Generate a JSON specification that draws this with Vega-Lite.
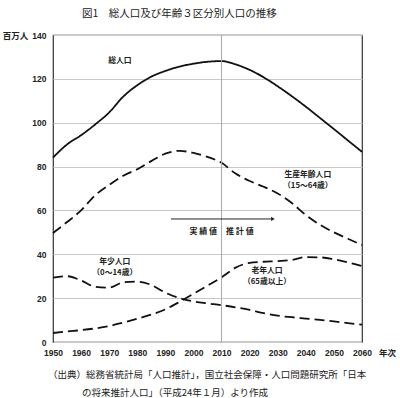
{
  "$schema": "https://vega.github.io/schema/vega-lite/v6.json",
  "width": 309,
  "height": 307,
  "autosize": "none",
  "padding": {"left": 53, "top": 35, "right": 38, "bottom": 56},
  "background": "white",
  "title": {"text": "図1　総人口及び年齢３区分別人口の推移", "anchor": "start", "frame": "group", "dx": 29, "offset": 12, "fontSize": 10.5, "font": "Noto Sans CJK JP", "fontWeight": "normal", "color": "#222"},
  "config": {"view": {"stroke": "#333", "strokeWidth": 1.2}, "font": "Noto Sans CJK JP", "axis": {"labelOverlap": false, "labelFlush": false}},
  "datasets": {
    "pop": [
      {"year": 1950, "series": "総人口", "value": 84.1}, {"year": 1955, "series": "総人口", "value": 90.1}, {"year": 1960, "series": "総人口", "value": 94.3}, {"year": 1965, "series": "総人口", "value": 99.2}, {"year": 1970, "series": "総人口", "value": 104.7}, {"year": 1975, "series": "総人口", "value": 111.9}, {"year": 1980, "series": "総人口", "value": 117.1}, {"year": 1985, "series": "総人口", "value": 121.0}, {"year": 1990, "series": "総人口", "value": 123.6}, {"year": 1995, "series": "総人口", "value": 125.6}, {"year": 2000, "series": "総人口", "value": 126.9}, {"year": 2005, "series": "総人口", "value": 127.8}, {"year": 2010, "series": "総人口", "value": 128.1}, {"year": 2015, "series": "総人口", "value": 126.6}, {"year": 2020, "series": "総人口", "value": 124.1}, {"year": 2025, "series": "総人口", "value": 120.7}, {"year": 2030, "series": "総人口", "value": 116.6}, {"year": 2035, "series": "総人口", "value": 112.1}, {"year": 2040, "series": "総人口", "value": 107.3}, {"year": 2045, "series": "総人口", "value": 102.2}, {"year": 2050, "series": "総人口", "value": 97.1}, {"year": 2055, "series": "総人口", "value": 91.9}, {"year": 2060, "series": "総人口", "value": 86.7},
      {"year": 1950, "series": "生産年齢人口", "value": 49.7}, {"year": 1955, "series": "生産年齢人口", "value": 54.7}, {"year": 1960, "series": "生産年齢人口", "value": 60.0}, {"year": 1965, "series": "生産年齢人口", "value": 66.9}, {"year": 1970, "series": "生産年齢人口", "value": 71.6}, {"year": 1975, "series": "生産年齢人口", "value": 75.8}, {"year": 1980, "series": "生産年齢人口", "value": 78.8}, {"year": 1985, "series": "生産年齢人口", "value": 82.5}, {"year": 1990, "series": "生産年齢人口", "value": 85.9}, {"year": 1995, "series": "生産年齢人口", "value": 87.2}, {"year": 2000, "series": "生産年齢人口", "value": 86.2}, {"year": 2005, "series": "生産年齢人口", "value": 84.4}, {"year": 2010, "series": "生産年齢人口", "value": 81.7}, {"year": 2015, "series": "生産年齢人口", "value": 76.8}, {"year": 2020, "series": "生産年齢人口", "value": 73.4}, {"year": 2025, "series": "生産年齢人口", "value": 70.8}, {"year": 2030, "series": "生産年齢人口", "value": 67.7}, {"year": 2035, "series": "生産年齢人口", "value": 63.4}, {"year": 2040, "series": "生産年齢人口", "value": 57.9}, {"year": 2045, "series": "生産年齢人口", "value": 53.5}, {"year": 2050, "series": "生産年齢人口", "value": 50.0}, {"year": 2055, "series": "生産年齢人口", "value": 47.1}, {"year": 2060, "series": "生産年齢人口", "value": 44.2},
      {"year": 1950, "series": "年少人口", "value": 29.4}, {"year": 1955, "series": "年少人口", "value": 30.0}, {"year": 1960, "series": "年少人口", "value": 28.1}, {"year": 1965, "series": "年少人口", "value": 25.2}, {"year": 1970, "series": "年少人口", "value": 24.8}, {"year": 1975, "series": "年少人口", "value": 27.2}, {"year": 1980, "series": "年少人口", "value": 27.5}, {"year": 1985, "series": "年少人口", "value": 26.0}, {"year": 1990, "series": "年少人口", "value": 22.5}, {"year": 1995, "series": "年少人口", "value": 20.0}, {"year": 2000, "series": "年少人口", "value": 18.5}, {"year": 2005, "series": "年少人口", "value": 17.6}, {"year": 2010, "series": "年少人口", "value": 16.8}, {"year": 2015, "series": "年少人口", "value": 15.8}, {"year": 2020, "series": "年少人口", "value": 14.6}, {"year": 2025, "series": "年少人口", "value": 13.2}, {"year": 2030, "series": "年少人口", "value": 12.0}, {"year": 2035, "series": "年少人口", "value": 11.3}, {"year": 2040, "series": "年少人口", "value": 10.7}, {"year": 2045, "series": "年少人口", "value": 10.1}, {"year": 2050, "series": "年少人口", "value": 9.4}, {"year": 2055, "series": "年少人口", "value": 8.6}, {"year": 2060, "series": "年少人口", "value": 7.9},
      {"year": 1950, "series": "老年人口", "value": 4.1}, {"year": 1955, "series": "老年人口", "value": 4.8}, {"year": 1960, "series": "老年人口", "value": 5.4}, {"year": 1965, "series": "老年人口", "value": 6.2}, {"year": 1970, "series": "老年人口", "value": 7.3}, {"year": 1975, "series": "老年人口", "value": 8.9}, {"year": 1980, "series": "老年人口", "value": 10.6}, {"year": 1985, "series": "老年人口", "value": 12.5}, {"year": 1990, "series": "老年人口", "value": 14.9}, {"year": 1995, "series": "老年人口", "value": 18.3}, {"year": 2000, "series": "老年人口", "value": 22.0}, {"year": 2005, "series": "老年人口", "value": 25.7}, {"year": 2010, "series": "老年人口", "value": 29.5}, {"year": 2015, "series": "老年人口", "value": 33.9}, {"year": 2020, "series": "老年人口", "value": 36.1}, {"year": 2025, "series": "老年人口", "value": 36.6}, {"year": 2030, "series": "老年人口", "value": 36.9}, {"year": 2035, "series": "老年人口", "value": 37.4}, {"year": 2040, "series": "老年人口", "value": 38.7}, {"year": 2045, "series": "老年人口", "value": 38.6}, {"year": 2050, "series": "老年人口", "value": 37.7}, {"year": 2055, "series": "老年人口", "value": 36.3}, {"year": 2060, "series": "老年人口", "value": 34.6}
    ],
    "labels": [
      {"year": 1973.8, "value": 128.3, "text": "総人口"},
      {"year": 2040.7, "value": 76.2, "text": "生産年齢人口"},
      {"year": 2040.7, "value": 71.3, "text": "（15～64歳）"},
      {"year": 1972, "value": 36.5, "text": "年少人口"},
      {"year": 1972, "value": 31.6, "text": "（0～14歳）"},
      {"year": 2026.2, "value": 32.4, "text": "老年人口"},
      {"year": 2026.2, "value": 27.3, "text": "（65歳以上）"}
    ],
    "phase": [
      {"year": 2008.4, "value": 50.2, "text": "実  績  値", "side": "left"},
      {"year": 2011.6, "value": 50.2, "text": "推  計  値", "side": "right"}
    ],
    "notes": [
      {"year": 1948.2, "value": -15.1, "text": "（出典）総務省統計局「人口推計」，国立社会保障・人口問題研究所「日本"},
      {"year": 1960.3, "value": -23.3, "text": "の将来推計人口」（平成24年１月）より作成"}
    ],
    "arrow": [{"year": 1992, "year2": 2028.3, "value": 56.1}],
    "divider": [{"year": 2010}]
  },
  "layer": [
    {
      "data": {"name": "pop"},
      "mark": {"type": "line", "color": "#111", "strokeWidth": 1.8, "interpolate": "monotone"},
      "encoding": {
        "x": {"field": "year", "type": "quantitative", "scale": {"domain": [1950, 2060], "nice": false, "zero": false},
          "axis": {"values": [1950, 1960, 1970, 1980, 1990, 2000, 2010, 2020, 2030, 2040, 2050, 2060], "tickCount": 12, "format": "d", "grid": false, "ticks": false, "domain": false, "labelOverlap": false, "labelFont": "Liberation Sans", "labelFontWeight": "bold", "labelFontSize": 8.5, "labelPadding": 6, "labelColor": "#222",
            "title": "年次", "titleX": 334, "titleY": 10, "titleAlign": "center", "titleBaseline": "middle", "titleFontSize": 8.5, "titleFontWeight": "bold", "titleColor": "#222"}},
        "y": {"field": "value", "type": "quantitative", "scale": {"domain": [0, 140], "nice": false},
          "axis": {"values": [0, 20, 40, 60, 80, 100, 120, 140], "tickCount": 8, "grid": true, "gridColor": "#c8c8c8", "gridWidth": 1, "ticks": false, "domain": false, "labelOverlap": false, "labelFont": "Liberation Sans", "labelFontWeight": "bold", "labelFontSize": 8.5, "labelPadding": 7, "labelColor": "#222",
            "title": "百万人", "titleAngle": 0, "titleX": -38, "titleY": 0, "titleAlign": "center", "titleBaseline": "middle", "titleFontSize": 8.5, "titleFontWeight": "bold", "titleColor": "#222"}},
        "detail": {"field": "series"},
        "strokeDash": {"field": "series", "type": "nominal", "scale": {"domain": ["総人口", "生産年齢人口", "年少人口", "老年人口"], "range": [[1, 0], [10, 5], [10, 5], [10, 5]]}, "legend": null}
      }
    },
    {
      "data": {"name": "divider"},
      "mark": {"type": "rule", "color": "#aaa", "strokeWidth": 1},
      "encoding": {"x": {"field": "year", "type": "quantitative"}}
    },
    {
      "data": {"name": "arrow"},
      "mark": {"type": "rule", "color": "#222", "strokeWidth": 1},
      "encoding": {"x": {"field": "year", "type": "quantitative"}, "x2": {"field": "year2"}, "y": {"field": "value", "type": "quantitative"}}
    },
    {
      "data": {"name": "arrow"},
      "mark": {"type": "point", "shape": "triangle-right", "filled": true, "color": "#222", "size": 18, "opacity": 1},
      "encoding": {"x": {"field": "year2", "type": "quantitative"}, "y": {"field": "value", "type": "quantitative"}}
    },
    {
      "data": {"name": "labels"},
      "mark": {"type": "text", "fontSize": 7.8, "fontWeight": "bold", "color": "#222", "align": "center", "baseline": "middle"},
      "encoding": {"x": {"field": "year", "type": "quantitative"}, "y": {"field": "value", "type": "quantitative"}, "text": {"field": "text"}}
    },
    {
      "data": {"name": "phase"},
      "transform": [{"filter": "datum.side === 'left'"}],
      "mark": {"type": "text", "fontSize": 8, "fontWeight": "bold", "color": "#222", "align": "right", "baseline": "middle"},
      "encoding": {"x": {"field": "year", "type": "quantitative"}, "y": {"field": "value", "type": "quantitative"}, "text": {"field": "text"}}
    },
    {
      "data": {"name": "phase"},
      "transform": [{"filter": "datum.side === 'right'"}],
      "mark": {"type": "text", "fontSize": 8, "fontWeight": "bold", "color": "#222", "align": "left", "baseline": "middle"},
      "encoding": {"x": {"field": "year", "type": "quantitative"}, "y": {"field": "value", "type": "quantitative"}, "text": {"field": "text"}}
    },
    {
      "data": {"name": "notes"},
      "mark": {"type": "text", "fontSize": 9.5, "color": "#222", "align": "left", "baseline": "middle"},
      "encoding": {"x": {"field": "year", "type": "quantitative"}, "y": {"field": "value", "type": "quantitative"}, "text": {"field": "text"}}
    }
  ]
}
